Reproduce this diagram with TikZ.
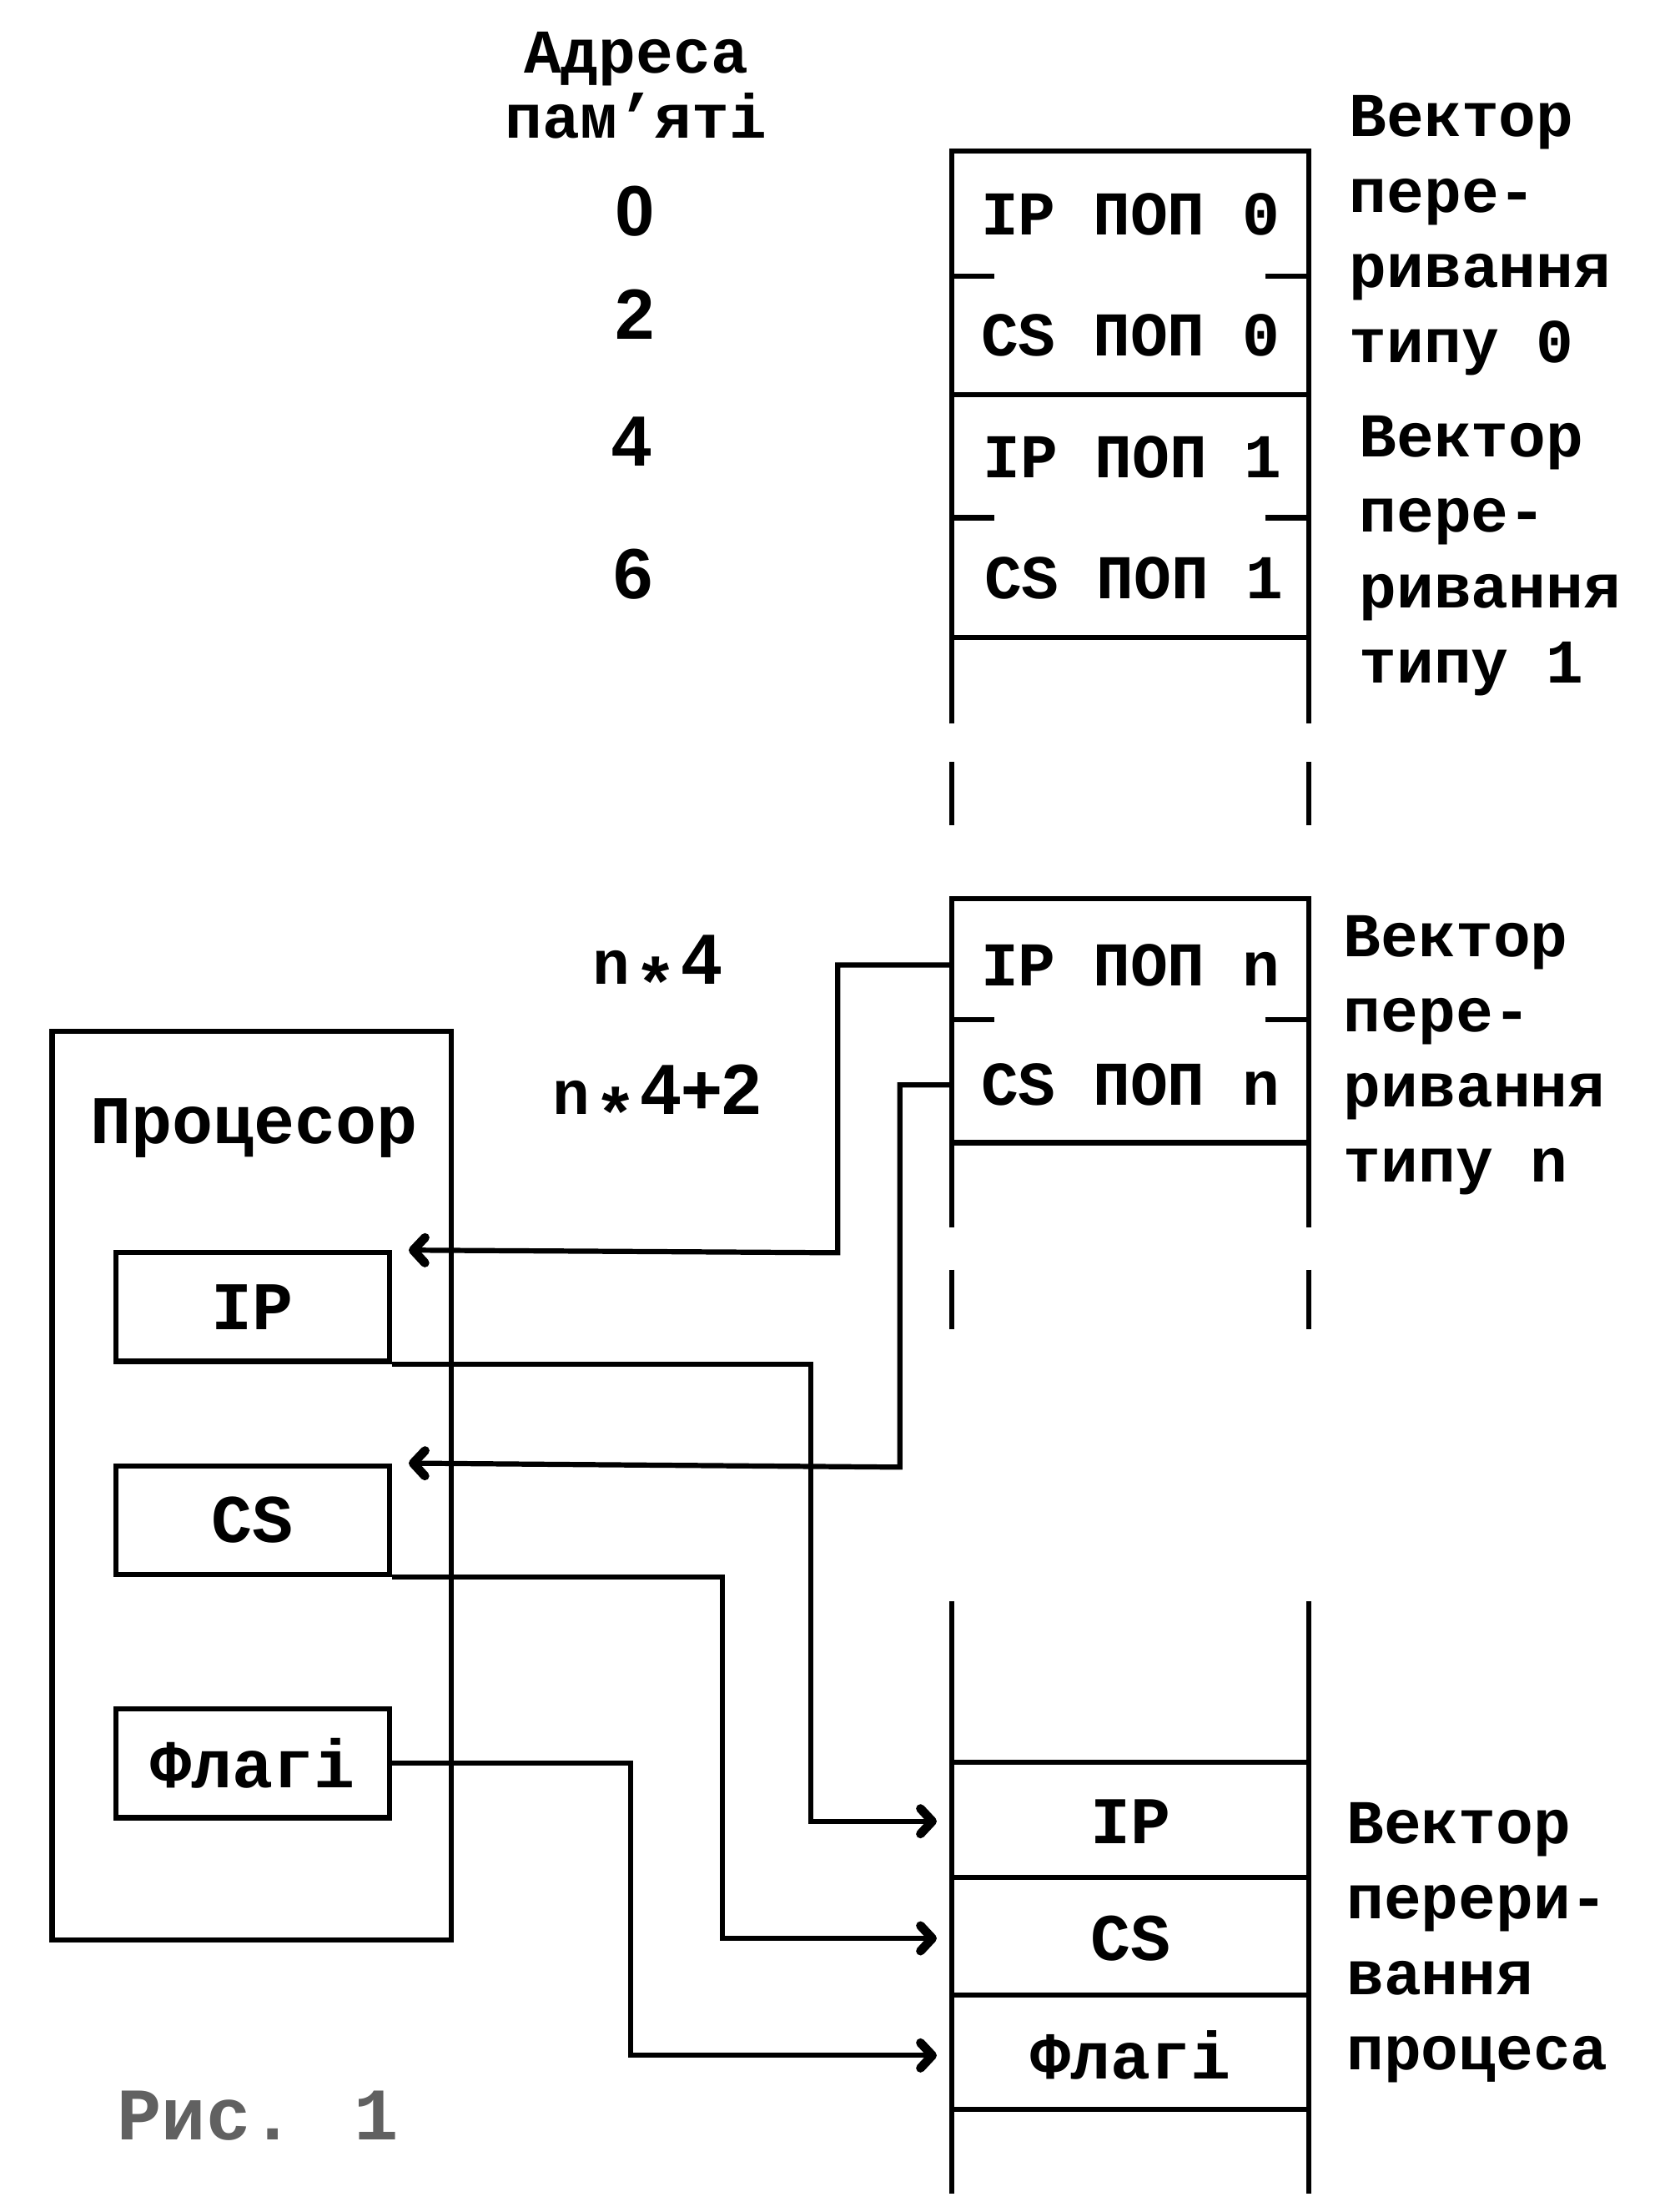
\documentclass[tikz,border=0pt]{standalone}
\usepackage{fontspec}
\setmainfont{Liberation Mono}
\newfontfamily\sansd{Liberation Sans}
\newfontfamily\monof{Liberation Mono}
\usetikzlibrary{arrows.meta}
\newcommand\pxu{0.01672cm}
\begin{document}
\begin{tikzpicture}[x=0.01672cm, y=-0.01672cm, line width=1.75pt,
  every node/.style={inner sep=0pt},
  cell/.style={minimum width=253*\pxu, minimum height=84*\pxu, font=\fontsize{21}{25}\selectfont\bfseries},
  bigcell/.style={cell, font=\fontsize{22.5}{27}\selectfont\bfseries},
  reg/.style={draw, minimum width=194*\pxu, minimum height=77*\pxu, font=\fontsize{23}{27}\selectfont\bfseries},
  lbl/.style={align=left, anchor=north west, font=\fontsize{21}{25.4}\selectfont\bfseries},
  addr/.style={font=\sansd\fontsize{24}{28}\selectfont\bfseries},
  arr/.style={-{Straight Barb[length=0.14cm,width=0.3cm,line width=3pt 0,round]}},
  arrin/.style={arr, shorten >=0.15cm}]
\useasboundingbox (0,0) rectangle (1177,1568);

% memory column, block 1
\draw (675,513) -- (675,107) -- (928,107) -- (928,513);
\draw (675,280) -- (928,280);
\draw (675,452) -- (928,452);
\draw (675,196) -- (705,196);
\draw (897,196) -- (928,196);
\draw (675,367) -- (705,367);
\draw (897,367) -- (928,367);
\draw (675,540) -- (675,585);
\draw (928,540) -- (928,585);
% block 2
\draw (675,870) -- (675,637) -- (928,637) -- (928,870);
\draw (675,810) -- (928,810);
\draw (675,723) -- (705,723);
\draw (897,723) -- (928,723);
\draw (675,900) -- (675,942);
\draw (928,900) -- (928,942);
% block 3
\draw (675,1135) -- (675,1555);
\draw (928,1135) -- (928,1555);
\draw (675,1249) -- (928,1249);
\draw (675,1331) -- (928,1331);
\draw (675,1414) -- (928,1414);
\draw (675,1495) -- (928,1495);

% cells
\node[cell] (ip0) at (801.5,152) {IP ПОП 0};
\node[cell] (cs0) at (801.5,238) {CS ПОП 0};
\node[cell] (ip1) at (803,324) {IP ПОП 1};
\node[cell] (cs1) at (804,410) {CS ПОП 1};
\node[cell] (ipn) at (801.5,684) {IP ПОП n};
\node[cell] (csn) at (801.5,769) {CS ПОП n};
\node[bigcell] (tip) at (801.5,1291) {IP};
\node[bigcell] (tcs) at (801.5,1374) {CS};
\node[bigcell] (tfl) at (801.5,1457) {Флагі};

% addresses
\node[align=center, anchor=north, font=\fontsize{21}{22}\selectfont\bfseries] (adrh) at (451,21) {Адреса\\пам’яті};
\node[addr] (a0) at (450,150) {0};
\node[addr] (a2) at (450,223) {2};
\node[addr] (a4) at (448,313) {4};
\node[addr] (a6) at (449,407) {6};
\node[addr] (an4) at (466,688) {{\monof\fontsize{21}{25}\selectfont\bfseries n}\,\raisebox{-0.3em}{*}\,4};
\node[addr] (an42) at (466,780) {{\monof\fontsize{21}{25}\selectfont\bfseries n}\,\raisebox{-0.3em}{*}\,4+2};

% right labels
\node[lbl] (v0) at (955,66) {Вектор\\пере-\\ривання\\типу 0};
\node[lbl] (v1) at (962,293) {Вектор\\пере-\\ривання\\типу 1};
\node[lbl] (vn) at (951,647) {Вектор\\пере-\\ривання\\типу n};
\node[lbl] (vp) at (953,1276) {Вектор\\перери-\\вання\\процеса};

% processor
\node[draw, minimum width=283*\pxu, minimum height=644*\pxu] (proc) at (178.5,1053) {};
\node[font=\fontsize{23}{27}\selectfont\bfseries] (procl) at (180,800) {Процесор};
\node[reg] (ipbox) at (179,926.5) {IP};
\node[reg] (csbox) at (179,1077.5) {CS};
\node[reg] (flbox) at (179,1250) {Флагі};

\coordinate (ipin) at ([xshift=0.2cm]ipbox.north east);
\coordinate (csin) at ([xshift=0.2cm]csbox.north east);

% connectors
\draw[arr] (ipn.west) -| (594,888) -- (ipin);
\draw[arr] (csn.west) -| (638,1040) -- (csin);
\draw[arrin] (ipbox.south east) -| (575,1291) -- (tip.west);
\draw[arrin] (csbox.south east) -| (512,1374) -- (tcs.west);
\draw[arrin] (flbox.east) -| (447,1457) -- (tfl.west);

\node[font=\fontsize{25}{30}\selectfont\bfseries, text=black!62] (fig) at (183,1500) {Рис. 1};
\end{tikzpicture}
\end{document}
